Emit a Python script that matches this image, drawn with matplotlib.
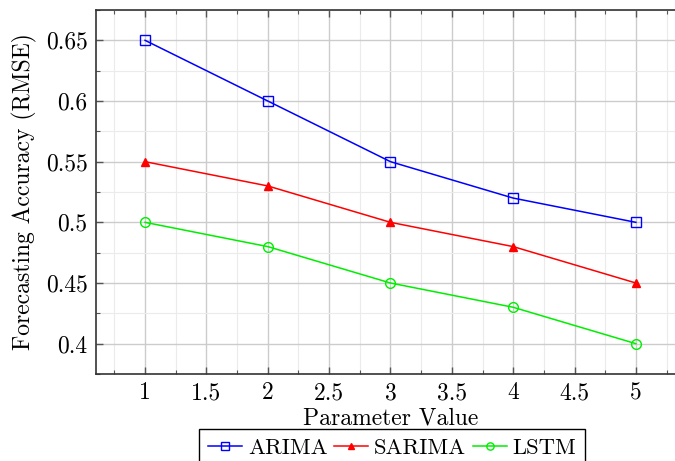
import matplotlib
matplotlib.use("Agg")
import matplotlib.pyplot as plt
from matplotlib.ticker import MultipleLocator

params = [1, 2, 3, 4, 5]
arima = [0.65, 0.60, 0.55, 0.52, 0.50]
sarima = [0.55, 0.53, 0.50, 0.48, 0.45]
lstm = [0.50, 0.48, 0.45, 0.43, 0.40]
xticks = [1, 1.5, 2, 2.5, 3, 3.5, 4, 4.5, 5]
xticklabels = ["1", "1.5", "2", "2.5", "3", "3.5", "4", "4.5", "5"]
yticks = [0.4, 0.45, 0.5, 0.55, 0.6, 0.65]
yticklabels = ["0.4", "0.45", "0.5", "0.55", "0.6", "0.65"]

plt.rcParams['font.family'] = ['cmr10', 'DejaVu Serif']
plt.rcParams['mathtext.fontset'] = 'cm'
plt.rcParams['axes.unicode_minus'] = False

FS = 17
fig = plt.figure(figsize=(6.75, 4.61), dpi=100)
ax = fig.add_axes([0.1422, 0.1887, 0.8726, 0.7896])

ax.plot(params, arima, color='blue', marker='s', mfc='none', mec='blue', ms=7, lw=1.1, label='ARIMA', zorder=3)
ax.plot(params, sarima, color='red', marker='^', mfc='red', mec='red', ms=6, lw=1.1, label='SARIMA', zorder=3)
ax.plot(params, lstm, color='#00ee00', marker='o', mfc='none', mec='#00ee00', ms=7, lw=1.1, label='LSTM', zorder=3)

ax.set_xlim(0.6, 5.4)
ax.set_ylim(0.375, 0.675)
ax.set_xticks(xticks)
ax.set_xticklabels(xticklabels)
ax.set_yticks(yticks)
ax.set_yticklabels(yticklabels)
ax.xaxis.set_minor_locator(MultipleLocator(0.25))
ax.yaxis.set_minor_locator(MultipleLocator(0.025))
ax.grid(which='major', color='#cccccc', lw=1.0, zorder=0)
ax.grid(which='minor', color='#ebebeb', lw=0.8, zorder=0)
ax.set_axisbelow(True)
ax.tick_params(which='both', direction='in', top=True, right=True, labelsize=FS, color='#555555')
ax.tick_params(which='major', length=5, width=1.0, pad=6)
ax.tick_params(which='minor', length=3, width=0.8)
for s in ax.spines.values():
    s.set_linewidth(1.2)
    s.set_color('#333333')

ax.set_xlabel('Parameter Value', fontsize=FS, labelpad=2)
ax.set_ylabel('Forecasting Accuracy (RMSE)', fontsize=FS, labelpad=6)

leg = fig.legend(loc='upper left', bbox_to_anchor=(0.295, 0.0694), ncol=3, fontsize=16.3,
                 frameon=True, fancybox=False, edgecolor='black', framealpha=1,
                 handlelength=1.5, handletextpad=0.25, columnspacing=0.3, borderpad=0.4,
                 borderaxespad=0, markerscale=0.75)
leg.get_frame().set_linewidth(1.0)

fig.savefig('out.png', dpi=100)
